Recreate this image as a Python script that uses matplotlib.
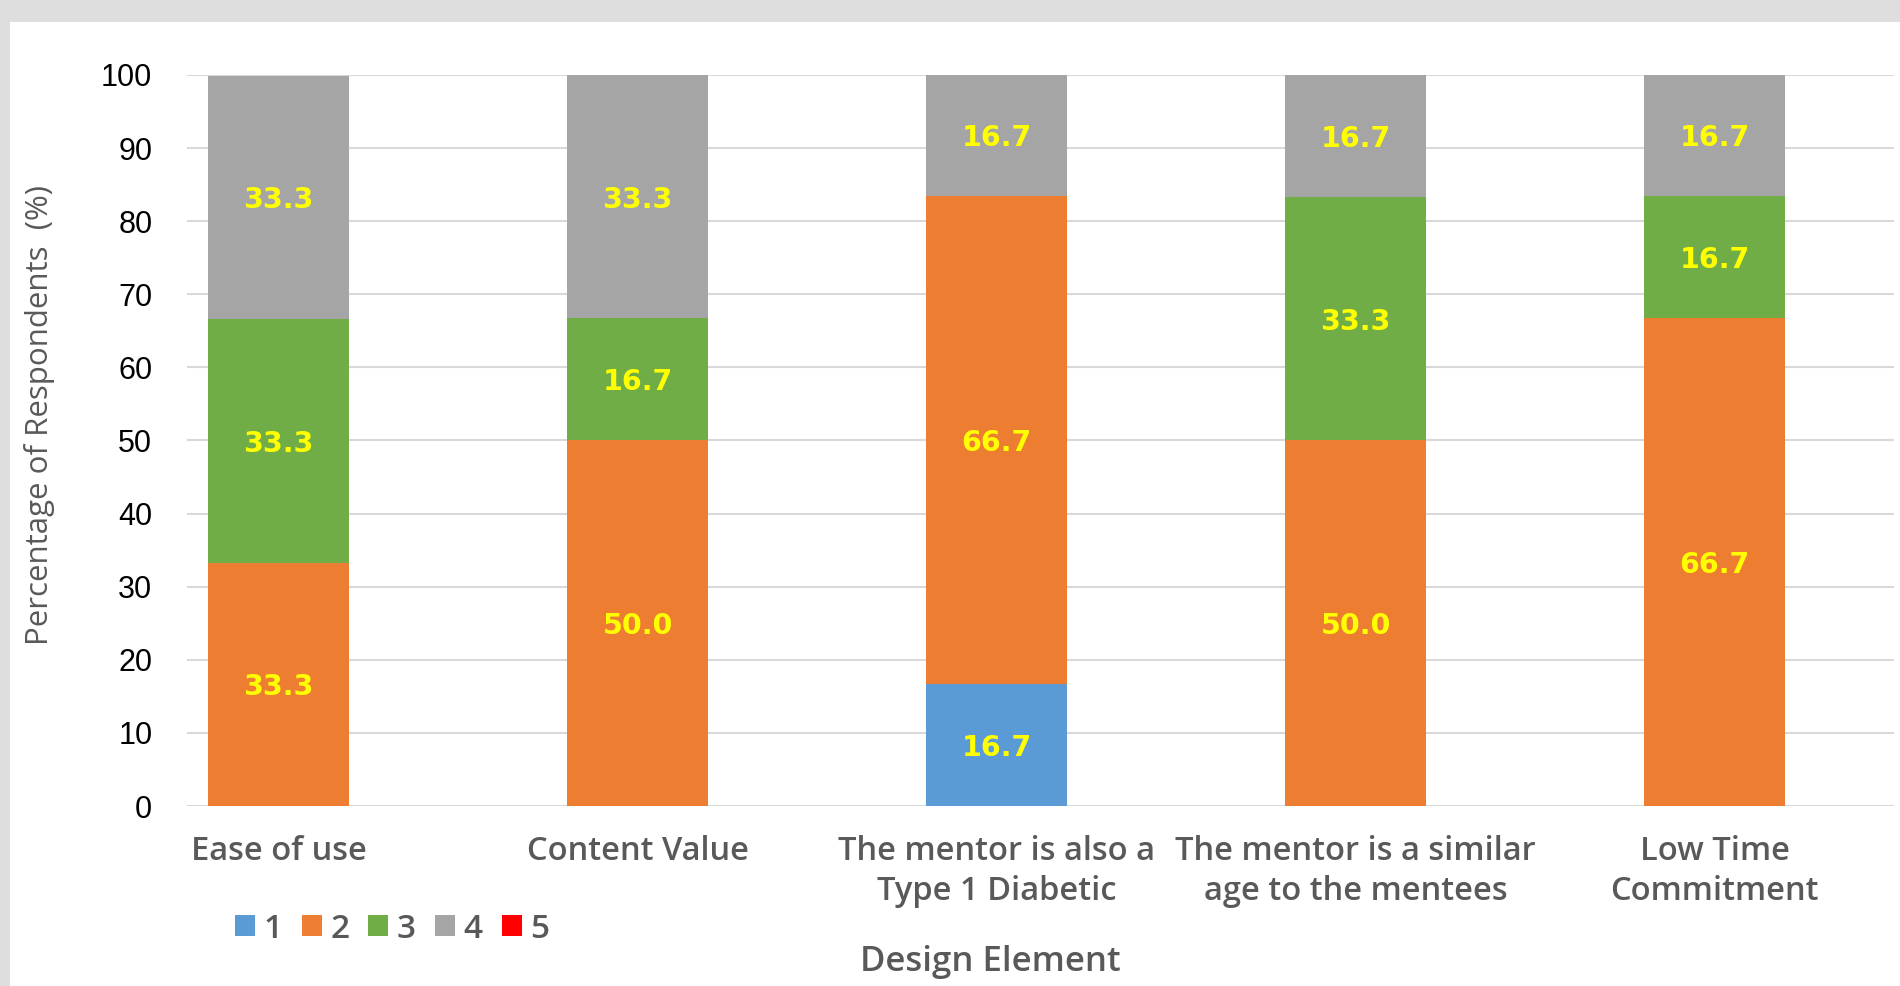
import matplotlib.pyplot as plt
from matplotlib.patches import Rectangle, Patch
import numpy as np

# survey ratings per design element (percent of respondents)
categories = ["Ease of use", "Content Value", "The mentor is also a\nType 1 Diabetic",
              "The mentor is a similar\nage to the mentees", "Low Time\nCommitment"]
rating_1 = [0.0, 0.0, 16.7, 0.0, 0.0]
rating_2 = [33.3, 50.0, 66.7, 50.0, 66.7]
rating_3 = [33.3, 16.7, 0.0, 33.3, 16.7]
rating_4 = [33.3, 33.3, 16.7, 16.7, 16.7]
rating_5 = [0.0, 0.0, 0.0, 0.0, 0.0]
series_names = ["1", "2", "3", "4", "5"]
colors = ["#5B9BD5", "#ED7D31", "#70AD47", "#A5A5A5", "#FF0000"]

W, H = 1900, 986
label_font = "Open Sans"
fig = plt.figure(figsize=(W / 100, H / 100), dpi=100, facecolor="#dedede")
fig.patches.append(Rectangle((10 / W, 0), 1, 1 - 22 / H, transform=fig.transFigure,
                             facecolor="white", edgecolor="none", zorder=-10))

ax = fig.add_axes([187 / W, 1 - 806 / H, (1894 - 187) / W, (806 - 75) / H])
ax.set_facecolor("none")

x = np.arange(len(categories))
bottom = np.zeros(len(categories))
for name, vals, c in zip(series_names, [rating_1, rating_2, rating_3, rating_4, rating_5], colors):
    vals = np.array(vals)
    ax.bar(x, vals, width=0.393, bottom=bottom, color=c, zorder=3)
    for xi, b, v in zip(x, bottom, vals):
        if v > 0:
            ax.text(xi, b + v / 2, f"{v:.1f}", ha="center", va="center_baseline",
                    color="#FFFF00", fontsize=20.5, fontweight="bold",
                    family="DejaVu Sans", zorder=4)
    bottom += vals

ax.set_ylim(0, 100)
ax.set_xlim(-0.255, 4.5)
ax.set_yticks(range(0, 101, 10))
ax.grid(axis="y", color="#d9d9d9", linewidth=1.5, zorder=0)
for s in ax.spines.values():
    s.set_visible(False)
ax.tick_params(axis="y", length=0, pad=25, labelsize=22, labelcolor="#000000")
ax.tick_params(axis="x", length=0, pad=21)
for lbl in ax.get_yticklabels():
    lbl.set_family("Liberation Sans")
ax.set_xticks(x)
ax.set_xticklabels(categories, fontsize=23.5, color="#595959", family=label_font,
                   fontweight="semibold", linespacing=1.28)

fig.text(990 / W, 1 - 962 / H, "Design Element", ha="center", va="center",
         fontsize=25, color="#595959", family=label_font, fontweight="semibold")
fig.text(40 / W, 1 - 415 / H, "Percentage of Respondents  (%)", ha="center",
         va="center", rotation=90, fontsize=22.5, color="#595959", family=label_font)

handles = [Patch(facecolor=c, edgecolor="none") for c in colors]
fig.legend(handles, series_names, loc="center left", bbox_to_anchor=(235 / W, 1 - 929 / H),
           ncol=5, frameon=False, handlelength=0.6, handleheight=0.6, handletextpad=0.25,
           columnspacing=0.58, borderpad=0, borderaxespad=0,
           prop={"family": label_font, "size": 24, "weight": "semibold"},
           labelcolor="#595959")

fig.savefig("out.png", dpi=100, facecolor=fig.get_facecolor())
